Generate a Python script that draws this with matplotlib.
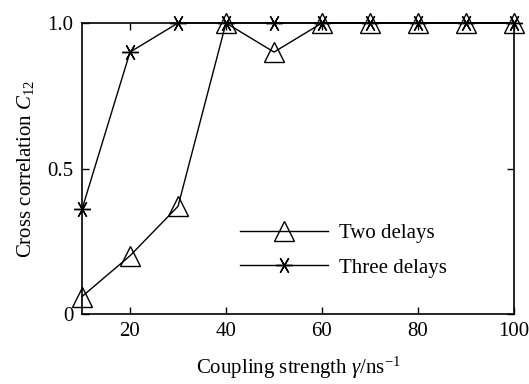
import numpy as np
import matplotlib
matplotlib.use("Agg")
import matplotlib.pyplot as plt

# data
coupling = [10, 20, 30, 40, 50, 60, 70, 80, 90, 100]
two_delays = [0.06, 0.20, 0.37, 1.0, 0.90, 1.0, 1.0, 1.0, 1.0, 1.0]
three_delays = [0.36, 0.90, 1.0, 1.0, 1.0, 1.0, 1.0, 1.0, 1.0, 1.0]
xticks = [20, 40, 60, 80, 100]
yticks = [0, 0.5, 1.0]
ytick_labels = ["0", "0.5", "1.0"]

plt.rcParams["font.family"] = "Liberation Serif"
plt.rcParams["mathtext.fontset"] = "custom"
plt.rcParams["mathtext.rm"] = "Liberation Serif"
plt.rcParams["mathtext.it"] = "Liberation Serif:italic"

fig = plt.figure(figsize=(5.29, 3.84), dpi=100)
ax = fig.add_axes([82 / 529, 1 - 314 / 384, 432 / 529, 291 / 384])

ax.plot(coupling, two_delays, color="black", lw=1.0, marker="^", ms=15,
        mfc="none", mec="black", mew=1.0, label="Two delays")
ax.plot(coupling, three_delays, color="black", lw=1.0, marker=(6, 2, 90), ms=12,
        mec="black", mew=1.0, label="Three delays")

ax.set_xlim(10, 100)
ax.set_ylim(0, 1.0)
ax.set_xticks(xticks)
ax.set_yticks(yticks)
ax.set_yticklabels(ytick_labels)
ax.tick_params(direction="in", top=True, right=True, length=5, width=1,
               labelsize=15, pad=6)
for s in ax.spines.values():
    s.set_linewidth(1.2)
for line in ax.lines:
    line.set_clip_on(False)

ax.set_xlabel(r"Coupling strength $\mathit{\gamma}$/ns$^{-1}$", fontsize=15, labelpad=10)
ax.set_ylabel(r"Cross correlation $\mathit{C}_{12}$", fontsize=15, labelpad=8)

ax.legend(loc="center left", bbox_to_anchor=(0.366, 0.218), frameon=False,
          fontsize=15, handlelength=4.2, handletextpad=0.55, labelspacing=0.73,
          borderpad=0, borderaxespad=0)

fig.savefig("out.png", dpi=100)
